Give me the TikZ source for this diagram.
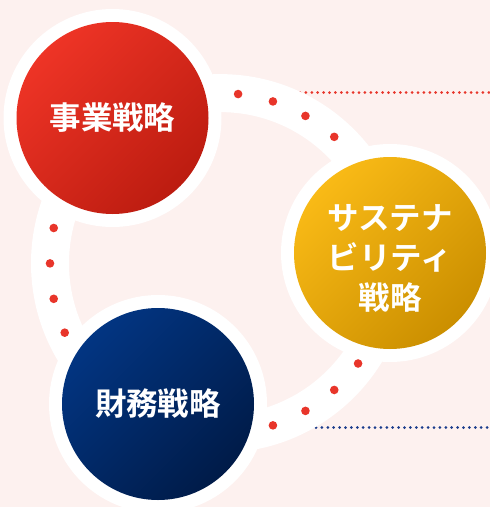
\documentclass[tikz,border=0pt]{standalone}
\usepackage{fontspec}
\usetikzlibrary{calc}
\newfontfamily\jp{Noto Sans CJK JP}[BoldFont={* Bold}]
\definecolor{bgpink}{HTML}{FDF1EF}
\definecolor{dotred}{HTML}{E8352A}
\definecolor{lnavy}{HTML}{1A3C8C}
\definecolor{redA}{HTML}{EE3426}
\definecolor{redB}{HTML}{BC1C10}
\definecolor{goldA}{HTML}{F9BA16}
\definecolor{goldB}{HTML}{CB8F00}
\definecolor{navyA}{HTML}{023582}
\definecolor{navyB}{HTML}{001B48}
\tikzset{
  halo/.style={circle, fill=white, minimum size=218pt, inner sep=0pt},
  disc/.style={circle, minimum size=192pt, inner sep=0pt, text=white,
    font=\jp\bfseries\fontsize{31.5}{40}\selectfont, align=center},
  bead/.style={circle, fill=dotred, minimum size=8.6pt, inner sep=0pt},
  dotline/.style={line width=3pt, line cap=round, dash pattern=on 0pt off 5.9pt}
}
\begin{document}
\begin{tikzpicture}[x=1pt,y=-1pt]
\fill[bgpink] (0,0) rectangle (490,507);
\useasboundingbox (0,0) rectangle (490,507);
% dotted lines
\coordinate (rl0) at (300,92.5);
\coordinate (rl1) at (490,92.5);
\coordinate (nl0) at (316,427.5);
\coordinate (nl1) at (490,427.5);
\draw[dotline, dotred] (rl0) -- (rl1);
\draw[dotline, lnavy] (nl0) -- (nl1);
% ring
\coordinate (rc) at (220.3,263.4);
\draw[white, line width=38pt] (rc) circle[radius=170.3];
% beads
\foreach \a [count=\i] in {48,60,72,84,168,180,192,204,288,300,312,324}
  \node[bead] (b\i) at ($(rc)+({170.3*cos(\a)},{-170.3*sin(\a)})$) {};
% halos
\node[halo] (hb) at (112.5,118) {};
\node[halo] (hs) at (390,253) {};
\node[halo] (hf) at (158,404) {};
% discs
\node[disc, top color=redA, bottom color=redB, shading angle=45] (biz) at (hb) {事業戦略};
\node[disc, top color=goldA, bottom color=goldB, shading angle=45] (sus) at (hs) {};
\node[text=white, font=\jp\bfseries\fontsize{31.5}{40}\selectfont, align=center] (sustxt) at ($(sus)+(0,5)$) {サステナ\\ビリティ\\戦略};
\node[disc, top color=navyA, bottom color=navyB, shading angle=45] (fin) at (hf) {財務戦略};
\end{tikzpicture}
\end{document}
